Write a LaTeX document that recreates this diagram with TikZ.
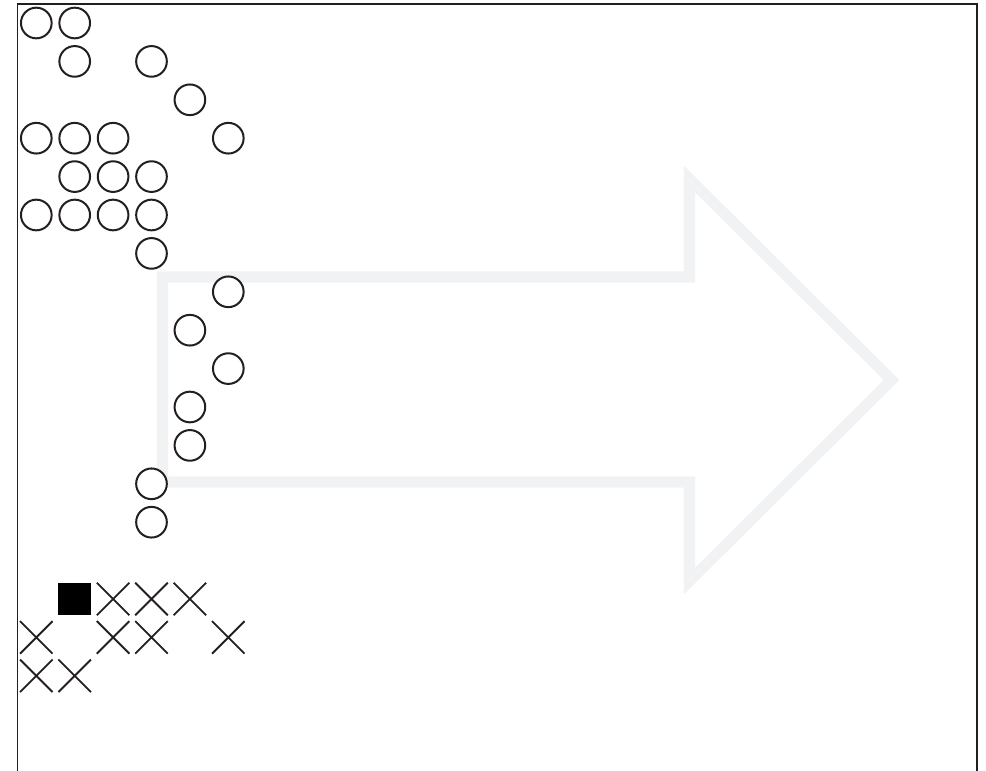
\documentclass[tikz,border=0pt]{standalone}
\usetikzlibrary{shapes.misc}
\definecolor{ink}{HTML}{231F20}
\definecolor{arrowgrey}{RGB}{241,242,244}
\begin{document}
\begin{tikzpicture}[x=0.75pt,y=-0.75pt,
  ring/.style={circle,draw=ink,fill=white,line width=1.5pt,minimum size=23pt,inner sep=0pt},
  xmark/.style={cross out,draw=ink,line width=1.4pt,minimum size=23pt,inner sep=0pt},
  blk/.style={rectangle,fill=black,minimum size=24.4pt,inner sep=0pt},
  frameline/.style={draw=ink,line width=1.4pt},
  bigarrow/.style={draw=arrowgrey,line width=8.3pt,miter limit=10}]
\useasboundingbox (0,0) rectangle (986,771);
% frame (open at bottom)
\draw[frameline] (17.5,771) -- (17.5,4) -- (977,4) -- (977,771);
% big arrow outline
\draw[bigarrow] (162.5,277) -- (689.5,277) -- (689.5,179) -- (891.5,380)
  -- (689.5,581) -- (689.5,482) -- (162.5,482) -- cycle;
% circles
\foreach \c/\r [count=\i] in {0/0,1/0,1/1,3/1,4/2,0/3,1/3,2/3,5/3,1/4,2/4,3/4,0/5,1/5,2/5,3/5,3/6,5/7,4/8,5/9,4/10,4/11,3/12,3/13}
  \node[ring] (c\i) at ({36.3+38.4*\c},{23+38.4*\r}) {};
% filled square
\node[blk] (sq) at ({36.3+38.4*1},{23+38.4*15}) {};
% crosses
\foreach \c/\r [count=\i] in {2/15,3/15,4/15,0/16,2/16,3/16,5/16,0/17,1/17}
  \node[xmark] (x\i) at ({36.3+38.4*\c},{23+38.4*\r}) {};
\end{tikzpicture}
\end{document}
